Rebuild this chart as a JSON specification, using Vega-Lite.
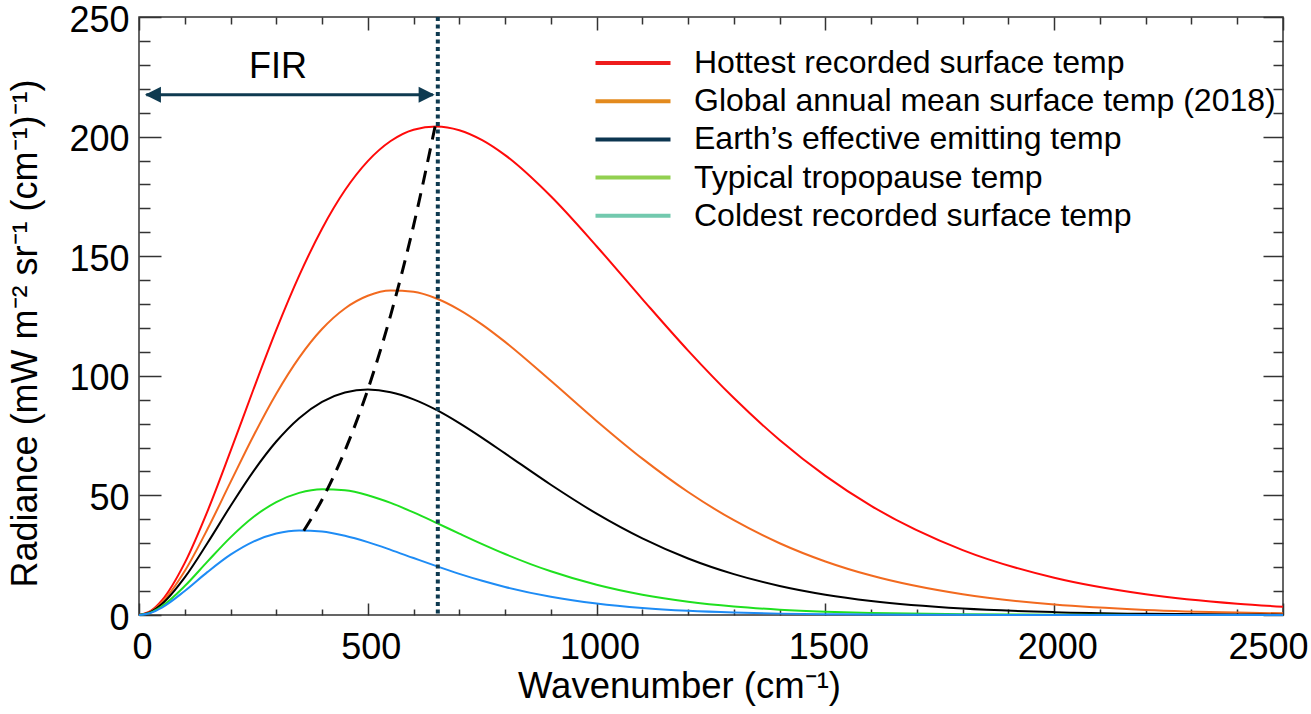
{
  "$schema": "https://vega.github.io/schema/vega-lite/v6.json",
  "width": 1144,
  "height": 598,
  "autosize": {"type": "none"},
  "padding": {"left": 139, "top": 17, "right": 28, "bottom": 99},
  "background": "white",
  "config": {
    "view": {"stroke": "#333333", "strokeWidth": 1.5},
    "font": "Liberation Sans"
  },
  "datasets": {
    "curves": [
      {"s":"hot","nu":0,"r":0},{"s":"hot","nu":25,"r":1.616},{"s":"hot","nu":50,"r":6.11},{"s":"hot","nu":100,"r":21.79},{"s":"hot","nu":150,"r":43.54},{"s":"hot","nu":200,"r":68.47},{"s":"hot","nu":250,"r":94.27},{"s":"hot","nu":300,"r":119.17},{"s":"hot","nu":350,"r":141.86},{"s":"hot","nu":400,"r":161.5},{"s":"hot","nu":450,"r":177.55},{"s":"hot","nu":500,"r":189.75},{"s":"hot","nu":550,"r":198.15},{"s":"hot","nu":600,"r":202.89},{"s":"hot","nu":650,"r":204.26},{"s":"hot","nu":700,"r":202.68},{"s":"hot","nu":750,"r":198.52},{"s":"hot","nu":800,"r":192.26},{"s":"hot","nu":900,"r":175.05},{"s":"hot","nu":1000,"r":154.17},{"s":"hot","nu":1100,"r":132.09},{"s":"hot","nu":1200,"r":110.55},{"s":"hot","nu":1300,"r":90.7},{"s":"hot","nu":1400,"r":73.16},{"s":"hot","nu":1500,"r":58.15},{"s":"hot","nu":1600,"r":45.61},{"s":"hot","nu":1800,"r":27.13},{"s":"hot","nu":2000,"r":15.56},{"s":"hot","nu":2200,"r":8.66},{"s":"hot","nu":2400,"r":4.7},{"s":"hot","nu":2500,"r":3.435},
      {"s":"mean","nu":0,"r":0},{"s":"mean","nu":25,"r":1.399},{"s":"mean","nu":50,"r":5.247},{"s":"mean","nu":100,"r":18.38},{"s":"mean","nu":150,"r":36.03},{"s":"mean","nu":200,"r":55.53},{"s":"mean","nu":250,"r":74.84},{"s":"mean","nu":300,"r":92.52},{"s":"mean","nu":350,"r":107.6},{"s":"mean","nu":400,"r":119.55},{"s":"mean","nu":450,"r":128.15},{"s":"mean","nu":500,"r":133.45},{"s":"mean","nu":550,"r":135.67},{"s":"mean","nu":600,"r":135.16},{"s":"mean","nu":650,"r":132.33},{"s":"mean","nu":700,"r":127.61},{"s":"mean","nu":750,"r":121.42},{"s":"mean","nu":800,"r":114.18},{"s":"mean","nu":900,"r":97.92},{"s":"mean","nu":1000,"r":81.14},{"s":"mean","nu":1100,"r":65.36},{"s":"mean","nu":1200,"r":51.41},{"s":"mean","nu":1300,"r":39.62},{"s":"mean","nu":1400,"r":30.01},{"s":"mean","nu":1500,"r":22.39},{"s":"mean","nu":1600,"r":16.48},{"s":"mean","nu":1800,"r":8.64},{"s":"mean","nu":2000,"r":4.363},{"s":"mean","nu":2200,"r":2.138},{"s":"mean","nu":2400,"r":1.022},{"s":"mean","nu":2500,"r":0.701},
      {"s":"eff","nu":0,"r":0},{"s":"eff","nu":25,"r":1.228},{"s":"eff","nu":50,"r":4.567},{"s":"eff","nu":100,"r":15.71},{"s":"eff","nu":150,"r":30.2},{"s":"eff","nu":200,"r":45.57},{"s":"eff","nu":250,"r":60.07},{"s":"eff","nu":300,"r":72.53},{"s":"eff","nu":350,"r":82.3},{"s":"eff","nu":400,"r":89.12},{"s":"eff","nu":450,"r":93.02},{"s":"eff","nu":500,"r":94.25},{"s":"eff","nu":550,"r":93.16},{"s":"eff","nu":600,"r":90.17},{"s":"eff","nu":650,"r":85.74},{"s":"eff","nu":700,"r":80.23},{"s":"eff","nu":750,"r":74.07},{"s":"eff","nu":800,"r":67.55},{"s":"eff","nu":900,"r":54.45},{"s":"eff","nu":1000,"r":42.37},{"s":"eff","nu":1100,"r":32.03},{"s":"eff","nu":1200,"r":23.63},{"s":"eff","nu":1300,"r":17.08},{"s":"eff","nu":1400,"r":12.13},{"s":"eff","nu":1500,"r":8.484},{"s":"eff","nu":1600,"r":5.857},{"s":"eff","nu":1800,"r":2.698},{"s":"eff","nu":2000,"r":1.197},{"s":"eff","nu":2200,"r":0.516},{"s":"eff","nu":2400,"r":0.217},{"s":"eff","nu":2500,"r":0.139},
      {"s":"trop","nu":0,"r":0},{"s":"trop","nu":25,"r":0.996},{"s":"trop","nu":50,"r":3.644},{"s":"trop","nu":100,"r":12.1},{"s":"trop","nu":150,"r":22.4},{"s":"trop","nu":200,"r":32.45},{"s":"trop","nu":250,"r":40.95},{"s":"trop","nu":300,"r":47.22},{"s":"trop","nu":350,"r":51.06},{"s":"trop","nu":400,"r":52.59},{"s":"trop","nu":450,"r":52.12},{"s":"trop","nu":500,"r":50.06},{"s":"trop","nu":550,"r":46.85},{"s":"trop","nu":600,"r":42.88},{"s":"trop","nu":650,"r":38.52},{"s":"trop","nu":700,"r":34.04},{"s":"trop","nu":750,"r":29.65},{"s":"trop","nu":800,"r":25.5},{"s":"trop","nu":900,"r":18.26},{"s":"trop","nu":1000,"r":12.62},{"s":"trop","nu":1100,"r":8.459},{"s":"trop","nu":1200,"r":5.534},{"s":"trop","nu":1300,"r":3.546},{"s":"trop","nu":1400,"r":2.231},{"s":"trop","nu":1500,"r":1.383},{"s":"trop","nu":1600,"r":0.846},{"s":"trop","nu":1800,"r":0.306},{"s":"trop","nu":2000,"r":0.107},{"s":"trop","nu":2200,"r":0.036},{"s":"trop","nu":2400,"r":0.012},{"s":"trop","nu":2500,"r":0.007},
      {"s":"cold","nu":0,"r":0},{"s":"cold","nu":25,"r":0.862},{"s":"cold","nu":50,"r":3.112},{"s":"cold","nu":100,"r":10.045},{"s":"cold","nu":150,"r":18.015},{"s":"cold","nu":200,"r":25.22},{"s":"cold","nu":250,"r":30.7},{"s":"cold","nu":300,"r":34.06},{"s":"cold","nu":350,"r":35.37},{"s":"cold","nu":400,"r":34.93},{"s":"cold","nu":450,"r":33.15},{"s":"cold","nu":500,"r":30.46},{"s":"cold","nu":550,"r":27.24},{"s":"cold","nu":600,"r":23.81},{"s":"cold","nu":650,"r":20.42},{"s":"cold","nu":700,"r":17.21},{"s":"cold","nu":750,"r":14.3},{"s":"cold","nu":800,"r":11.73},{"s":"cold","nu":900,"r":7.633},{"s":"cold","nu":1000,"r":4.787},{"s":"cold","nu":1100,"r":2.915},{"s":"cold","nu":1200,"r":1.731},{"s":"cold","nu":1300,"r":1.007},{"s":"cold","nu":1400,"r":0.575},{"s":"cold","nu":1500,"r":0.324},{"s":"cold","nu":1600,"r":0.18},{"s":"cold","nu":1800,"r":0.054},{"s":"cold","nu":2000,"r":0.015},{"s":"cold","nu":2200,"r":0.004},{"s":"cold","nu":2400,"r":0.001},{"s":"cold","nu":2500,"r":0.001}
    ],
    "wien": [
      {"nu":360,"r":35.2},{"nu":400,"r":48.2},{"nu":450,"r":68.7},{"nu":500,"r":94.2},{"nu":550,"r":125.4},{"nu":600,"r":162.8},{"nu":647,"r":204.2}
    ],
    "legend": [
      {"s":"Hottest recorded surface temp"},
      {"s":"Global annual mean surface temp (2018)"},
      {"s":"Earth’s effective emitting temp"},
      {"s":"Typical tropopause temp"},
      {"s":"Coldest recorded surface temp"}
    ],
    "one": [{"k": 1}]
  },
  "layer": [
    {
      "data": {"name": "curves"},
      "mark": {"type": "line", "interpolate": "monotone", "strokeWidth": 2},
      "encoding": {
        "x": {
          "field": "nu", "type": "quantitative",
          "scale": {"domain": [0, 2500], "nice": false, "zero": false},
          "axis": {
            "orient": "bottom",
            "values": [0,100,200,300,400,500,600,700,800,900,1000,1100,1200,1300,1400,1500,1600,1700,1800,1900,2000,2100,2200,2300,2400,2500],
            "tickSize": {"condition": {"test": "datum.value % 500 === 0", "value": -12}, "value": -6},
            "tickColor": "#333333", "tickWidth": 1.5,
            "domain": false, "grid": false,
            "labelExpr": "datum.value % 500 === 0 ? format(datum.value, 'd') : ''",
            "labelFont": "Liberation Sans", "labelFontSize": 36, "labelColor": "#000000",
            "labelPadding": 55, "labelBaseline": "alphabetic",
            "labelAlign": {"condition": {"test": "datum.value === 2500", "value": "right"}, "value": "center"},
            "labelOffset": {"condition": {"test": "datum.value === 2500", "value": 25}, "value": 3},
            "labelOverlap": false, "labelFlush": false,
            "title": "Wavenumber (cm⁻¹)",
            "titleFont": "Liberation Sans", "titleFontSize": 36.5, "titleFontWeight": "normal", "titleColor": "#000000",
            "titleX": 540, "titleY": 82, "titleBaseline": "alphabetic", "titleAlign": "center"
          }
        },
        "y": {
          "field": "r", "type": "quantitative",
          "scale": {"domain": [0, 250], "nice": false},
          "axis": {
            "orient": "left",
            "values": [0,10,20,30,40,50,60,70,80,90,100,110,120,130,140,150,160,170,180,190,200,210,220,230,240,250],
            "tickSize": {"condition": {"test": "datum.value % 50 === 0", "value": -22}, "value": -11},
            "tickColor": "#333333", "tickWidth": 1.5,
            "domain": false, "grid": false,
            "labelExpr": "datum.value % 50 === 0 ? format(datum.value, 'd') : ''",
            "labelFont": "Liberation Sans", "labelFontSize": 36, "labelColor": "#000000",
            "labelPadding": 32, "labelOffset": 3, "labelOverlap": false, "labelFlush": false,
            "title": "Radiance (mW m⁻² sr⁻¹ (cm⁻¹)⁻¹)",
            "titleFont": "Liberation Sans", "titleFontSize": 36, "titleFontWeight": "normal", "titleColor": "#000000",
            "titleX": -103, "titleY": 316, "titleBaseline": "alphabetic", "titleAlign": "center", "titleAngle": -90
          }
        },
        "color": {
          "field": "s", "type": "nominal",
          "scale": {"domain": ["hot","mean","eff","trop","cold"], "range": ["#FF0A0A","#F26A1F","#000000","#1FE01F","#1E8CF5"]},
          "legend": null
        }
      }
    },
    {
      "data": {"name": "wien"},
      "mark": {"type": "line", "interpolate": "monotone", "strokeWidth": 3, "strokeDash": [14, 9], "color": "#000000"},
      "encoding": {
        "x": {
          "field": "nu", "type": "quantitative",
          "scale": {"domain": [0, 2500], "nice": false, "zero": false},
          "axis": {
            "orient": "top",
            "values": [0,100,200,300,400,500,600,700,800,900,1000,1100,1200,1300,1400,1500,1600,1700,1800,1900,2000,2100,2200,2300,2400,2500],
            "tickSize": {"condition": {"test": "datum.value % 500 === 0", "value": -13}, "value": -7},
            "tickColor": "#333333", "tickWidth": 1.5,
            "domain": false, "grid": false, "labels": false, "title": null
          }
        },
        "y": {
          "field": "r", "type": "quantitative",
          "scale": {"domain": [0, 250], "nice": false},
          "axis": {
            "orient": "right",
            "values": [0,10,20,30,40,50,60,70,80,90,100,110,120,130,140,150,160,170,180,190,200,210,220,230,240,250],
            "tickSize": {"condition": {"test": "datum.value % 50 === 0", "value": -20}, "value": -10},
            "tickColor": "#333333", "tickWidth": 1.5,
            "domain": false, "grid": false, "labels": false, "title": null
          }
        }
      }
    },
    {
      "data": {"name": "one"},
      "mark": {"type": "rule", "color": "#0E3A50", "strokeWidth": 4, "strokeDash": [4, 3.5]},
      "encoding": {"x": {"datum": 653, "type": "quantitative", "axis": null}}
    },
    {
      "data": {"name": "one"},
      "mark": {"type": "rule", "color": "#0E3A50", "strokeWidth": 3},
      "encoding": {
        "x": {"datum": 16, "type": "quantitative", "axis": null},
        "x2": {"datum": 642},
        "y": {"datum": 217.5, "type": "quantitative", "axis": null}
      }
    },
    {
      "data": {"name": "one"},
      "mark": {"type": "point", "shape": "M0,0L2,-1L2,1Z", "filled": true, "size": 256, "color": "#0E3A50", "opacity": 1},
      "encoding": {
        "x": {"datum": 13, "type": "quantitative", "axis": null},
        "y": {"datum": 217.5, "type": "quantitative", "axis": null}
      }
    },
    {
      "data": {"name": "one"},
      "mark": {"type": "point", "shape": "M0,0L-2,-1L-2,1Z", "filled": true, "size": 256, "color": "#0E3A50", "opacity": 1},
      "encoding": {
        "x": {"datum": 646, "type": "quantitative", "axis": null},
        "y": {"datum": 217.5, "type": "quantitative", "axis": null}
      }
    },
    {
      "data": {"name": "one"},
      "mark": {"type": "text", "text": "FIR", "font": "Liberation Sans", "fontSize": 36, "align": "center", "baseline": "middle", "color": "#000000"},
      "encoding": {
        "x": {"datum": 304, "type": "quantitative", "axis": null},
        "y": {"datum": 229, "type": "quantitative", "axis": null}
      }
    },
    {
      "data": {"name": "legend"},
      "mark": {"type": "line", "strokeWidth": 4},
      "encoding": {
        "x": {"datum": 0, "type": "quantitative", "axis": null},
        "y": {"datum": 0, "type": "quantitative", "axis": null},
        "color": {
          "field": "s", "type": "nominal",
          "scale": {
            "domain": ["Hottest recorded surface temp","Global annual mean surface temp (2018)","Earth’s effective emitting temp","Typical tropopause temp","Coldest recorded surface temp"],
            "range": ["#EE1C1C","#E38A1E","#0C3550","#92D050","#72C9AE"]
          },
          "legend": {
            "orient": "none", "legendX": 473, "legendY": 25,
            "title": null, "padding": 0,
            "symbolType": "M-2,0H2", "symbolSize": 1406, "symbolStrokeWidth": 4,
            "labelFont": "Liberation Sans", "labelFontSize": 32, "labelColor": "#000000",
            "labelOffset": 40, "rowPadding": 1.2, "labelLimit": 0
          }
        }
      }
    }
  ],
  "resolve": {
    "scale": {"color": "independent"},
    "axis": {"x": "independent", "y": "independent"},
    "legend": {"color": "independent"}
  }
}
